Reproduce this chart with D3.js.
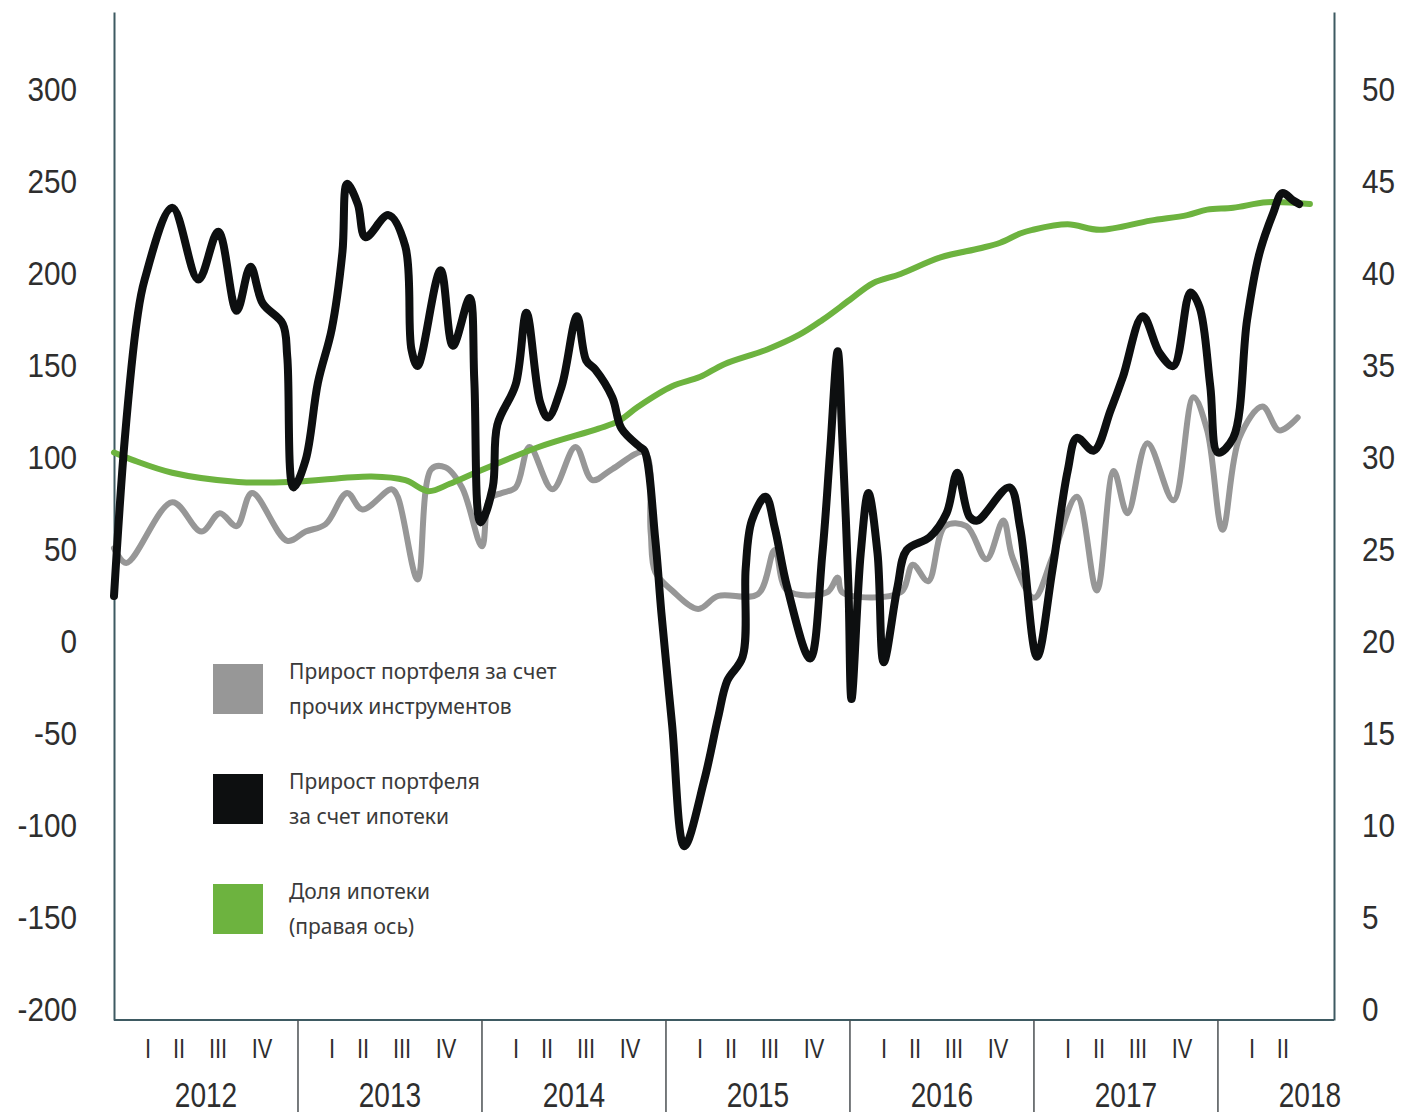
<!DOCTYPE html>
<html>
<head>
<meta charset="utf-8">
<script src="https://cdn.jsdelivr.net/npm/d3@7"></script>
<style>
  body { margin: 0; background: #ffffff; }
  svg { display: block; }
  .tick-label { font-family: "Liberation Sans", Arial, sans-serif; fill: #2e2e2e; }
  .legend-text { font-family: "Noto Sans", "Open Sans", sans-serif; fill: #3a3a3a; }
</style>
</head>
<body>
<svg id="chart" width="1401" height="1115"></svg>
<script>
// ---- Data -------------------------------------------------------------
const years = ["2012", "2013", "2014", "2015", "2016", "2017", "2018"];
const quarters = ["I", "II", "III", "IV"];
const quartersShown = [4, 4, 4, 4, 4, 4, 2];
const leftTicks = [-200, -150, -100, -50, 0, 50, 100, 150, 200, 250, 300];
const rightTicks = [0, 5, 10, 15, 20, 25, 30, 35, 40, 45, 50];

// [months since January 2012, value]
// Portfolio growth from other instruments (left axis)
const otherGrowth = [
  [0.0, 51], [0.8, 43], [3.8, 76], [5.7, 60], [6.9, 70], [8.0, 63], [9.0, 81],
  [11.3, 55], [12.5, 60], [13.8, 64], [15.2, 81], [16.2, 72], [18.1, 83], [18.5, 79],
  [19.8, 34], [20.7, 94], [21.6, 95], [22.7, 84], [24.0, 52], [24.5, 78], [25.3, 81],
  [26.2, 84], [27.1, 106], [28.6, 83], [30.1, 106], [31.2, 88], [32.5, 94], [34.6, 103],
  [35.0, 60], [35.3, 38], [36.4, 28], [38.1, 18], [39.4, 25], [42.0, 26], [43.1, 50],
  [43.9, 28], [46.5, 27], [47.2, 35], [47.5, 27], [51.3, 27], [52.1, 42], [53.1, 33],
  [54.2, 63], [55.6, 63], [56.9, 45], [58.0, 66], [58.6, 46], [60.0, 24], [61.2, 46],
  [62.8, 79], [64.1, 28], [65.2, 93], [66.1, 70], [67.4, 108], [69.1, 77], [70.4, 133],
  [71.3, 115], [72.3, 61], [73.4, 111], [74.9, 128], [76.0, 115], [77.2, 122]
];

// Portfolio growth from mortgages (left axis)
const mortgageGrowth = [
  [0.0, 25], [0.7, 110], [1.5, 175], [2.0, 197], [3.8, 236], [5.5, 197], [6.8, 223],
  [8.0, 180], [8.9, 204], [9.7, 184], [11.0, 173], [11.3, 155], [11.7, 84], [12.5, 99],
  [13.3, 141], [14.2, 170], [14.9, 212], [15.2, 249], [15.9, 238], [16.4, 220],
  [17.9, 232], [19.0, 215], [19.4, 159], [19.8, 150], [21.3, 202], [22.1, 161],
  [23.2, 187], [23.5, 142], [23.9, 65], [24.7, 84], [25.0, 118], [26.2, 140],
  [26.9, 179], [27.8, 130], [28.3, 122], [29.2, 139], [30.2, 177], [30.8, 153],
  [31.4, 148], [32.5, 133], [33.1, 116], [34.3, 106], [34.6, 104], [35.3, 56],
  [35.7, 16], [36.4, -45], [37.2, -111], [38.5, -75], [39.4, -41], [40.0, -21],
  [41.0, -8], [41.2, 40], [41.6, 66], [42.5, 79], [43.1, 62], [43.9, 30], [45.4, -9],
  [46.2, 48], [46.7, 103], [47.2, 158], [47.5, 111], [47.9, 30], [48.1, -31],
  [48.7, 48], [49.2, 81], [49.8, 48], [50.2, -11], [51.1, 30], [51.7, 50], [53.2, 57],
  [54.3, 70], [55.0, 92], [55.8, 68], [56.3, 66], [58.4, 84], [59.1, 62], [60.2, -8],
  [61.2, 39], [62.2, 93], [62.8, 111], [63.9, 104], [65.0, 126], [65.8, 144],
  [67.1, 177], [68.2, 157], [69.1, 150], [70.2, 190], [70.8, 182], [71.5, 139],
  [72.0, 103], [73.0, 111], [73.9, 175], [74.7, 211], [75.6, 233], [76.2, 244],
  [76.9, 240], [77.3, 238]
];

// Mortgage share of the portfolio, % (right axis)
const mortgageShare = [
  [0.0, 30.3], [1.2, 29.9], [3.8, 29.2], [8.1, 28.7], [11.6, 28.7], [16.8, 29.0],
  [19.0, 28.8], [20.5, 28.2], [21.9, 28.6], [23.3, 29.1], [27.7, 30.6], [31.6, 31.6],
  [32.9, 32.0], [34.2, 32.8], [36.4, 33.9], [38.2, 34.4], [39.8, 35.1], [42.6, 35.9],
  [44.7, 36.7], [46.2, 37.5], [48.0, 38.6], [49.5, 39.5], [51.3, 40.0], [53.9, 40.9],
  [56.5, 41.4], [57.8, 41.7], [59.1, 42.2], [59.9, 42.4], [62.2, 42.7], [64.3, 42.4],
  [67.6, 42.9], [70.0, 43.2], [71.3, 43.5], [73.0, 43.6], [75.2, 43.9], [78.0, 43.8]
];

const legendLabels = [
  ["Прирост портфеля за счет", "прочих инструментов"],
  ["Прирост портфеля", "за счет ипотеки"],
  ["Доля ипотеки", "(правая ось)"]
];
const seriesColors = ["#979797", "#0d0f10", "#6db33f"];

// ---- Layout -----------------------------------------------------------
const plot = { left: 114, right: 1334, top: 12, bottom: 1020 };
const quarterOffsets = [34, 65, 104, 148];
const tickSquash = 0.9;   // narrow figures on the value axes
const dateSquash = 0.78;  // narrow figures under the time axis

const svg = d3.select("#chart");

const x = d3.scaleLinear().domain([0, 79.57]).range([plot.left, plot.right]);
const yLeft = d3.scaleLinear().domain([-205.43, 342.39]).range([plot.bottom, plot.top]);
const yRight = d3.scaleLinear().domain([-0.543, 54.24]).range([plot.bottom, plot.top]);

// ---- Axes -------------------------------------------------------------
const axisColor = "#3e5a62";

const leftPad = 37, rightPad = 28;
const leftAxis = svg.append("g")
  .attr("transform", `translate(${plot.left},0)`)
  .call(d3.axisLeft(yLeft).tickValues(leftTicks).tickFormat(d => String(d))
    .tickSize(0).tickSizeOuter(0).tickPadding(leftPad));
const rightAxis = svg.append("g")
  .attr("transform", `translate(${plot.right},0)`)
  .call(d3.axisRight(yRight).tickValues(rightTicks).tickFormat(d => String(d))
    .tickSize(0).tickSizeOuter(0).tickPadding(rightPad));

[[leftAxis, -leftPad], [rightAxis, rightPad]].forEach(([g, pad]) => {
  g.attr("font-family", null).attr("font-size", null);
  g.select(".domain").attr("stroke", axisColor).attr("stroke-width", 2);
  g.selectAll(".tick text")
    .attr("class", "tick-label")
    .attr("font-size", 33)
    .attr("fill", "#2e2e2e")
    .attr("x", pad / tickSquash)
    .attr("transform", `scale(${tickSquash},1)`);
});

// bottom baseline
svg.append("line")
  .attr("x1", plot.left).attr("x2", plot.right)
  .attr("y1", plot.bottom).attr("y2", plot.bottom)
  .attr("stroke", axisColor).attr("stroke-width", 2);

// year separators
svg.selectAll(".year-sep")
  .data(d3.range(1, years.length))
  .join("line")
  .attr("class", "year-sep")
  .attr("x1", i => x(i * 12)).attr("x2", i => x(i * 12))
  .attr("y1", plot.bottom).attr("y2", 1112)
  .attr("stroke", "#4a4f52").attr("stroke-width", 1.5);

// quarter labels
const quarterData = [];
years.forEach((yr, i) => {
  for (let q = 0; q < quartersShown[i]; q++) quarterData.push({ yi: i, q });
});
svg.selectAll(".quarter")
  .data(quarterData)
  .join("text")
  .attr("class", "tick-label quarter")
  .attr("transform", d => `translate(${x(d.yi * 12) + quarterOffsets[d.q]},1058) scale(${dateSquash},1)`)
  .attr("text-anchor", "middle")
  .attr("font-size", 28)
  .text(d => quarters[d.q]);

// year labels
svg.selectAll(".year")
  .data(years)
  .join("text")
  .attr("class", "tick-label year")
  .attr("transform", (d, i) => `translate(${x(i * 12 + 6)},1107) scale(${dateSquash},1)`)
  .attr("text-anchor", "middle")
  .attr("font-size", 36)
  .text(d => d);

// ---- Lines ------------------------------------------------------------
const curve = d3.curveCatmullRom.alpha(0.5);
const lineLeft = d3.line().x(d => x(d[0])).y(d => yLeft(d[1])).curve(curve);
const lineRight = d3.line().x(d => x(d[0])).y(d => yRight(d[1])).curve(curve);

svg.append("path")
  .datum(otherGrowth)
  .attr("d", lineLeft)
  .attr("fill", "none")
  .attr("stroke", seriesColors[0])
  .attr("stroke-width", 6)
  .attr("stroke-linejoin", "round")
  .attr("stroke-linecap", "round");

svg.append("path")
  .datum(mortgageShare)
  .attr("d", lineRight)
  .attr("fill", "none")
  .attr("stroke", seriesColors[2])
  .attr("stroke-width", 6)
  .attr("stroke-linejoin", "round")
  .attr("stroke-linecap", "round");

svg.append("path")
  .datum(mortgageGrowth)
  .attr("d", lineLeft)
  .attr("fill", "none")
  .attr("stroke", seriesColors[1])
  .attr("stroke-width", 8)
  .attr("stroke-linejoin", "round")
  .attr("stroke-linecap", "round");

// ---- Legend -----------------------------------------------------------
const legend = svg.append("g").attr("transform", "translate(213,664)");
const legendItem = legend.selectAll("g")
  .data(legendLabels)
  .join("g")
  .attr("transform", (d, i) => `translate(0,${i * 110})`);

legendItem.append("rect")
  .attr("width", 50).attr("height", 50)
  .attr("fill", (d, i) => seriesColors[i]);

legendItem.append("text")
  .attr("class", "legend-text")
  .attr("font-size", 21)
  .selectAll("tspan")
  .data(d => d)
  .join("tspan")
  .attr("x", 76)
  .attr("y", (d, j) => 15 + j * 35)
  .text(d => d);
</script>
</body>
</html>
